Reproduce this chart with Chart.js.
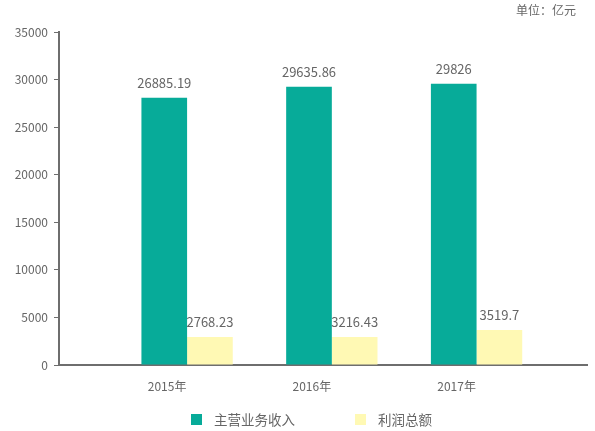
<!DOCTYPE html>
<html>
<head>
<meta charset="utf-8">
<script src="https://cdn.jsdelivr.net/npm/chart.js@4"></script>
<style>
  html, body { margin: 0; padding: 0; background: #fff; }
  #wrap { width: 595px; height: 431px; }
</style>
</head>
<body>
<div id="wrap"><canvas id="chart" width="595" height="431"></canvas></div>
<script>
// values
const years = ['2015年', '2016年', '2017年'];
const seriesNames = ['主营业务收入', '利润总额'];
const revenueBars = [28100, 29250, 29570];
const profitBars = [2950, 2950, 3680];
const revenueLabels = ['26885.19', '29635.86', '29826'];
const profitLabels = ['2768.23', '3216.43', '3519.7'];
const yTicks = [0, 5000, 10000, 15000, 20000, 25000, 30000, 35000];
const unitText = '单位：亿元';

const colors = ['#07AB99', '#FFF9B4'];
const textGray = '#666666';
const axisGray = '#6e6e6e';
const FONT = '"Noto Sans CJK SC", "Noto Sans", sans-serif';

const barLabels = [revenueLabels, profitLabels];

// value labels above bars, unit text and legend
const extras = {
  id: 'extras',
  afterDatasetsDraw(chart) {
    const ctx = chart.ctx;
    ctx.save();
    ctx.fillStyle = textGray;
    ctx.font = '13px ' + FONT;
    ctx.textAlign = 'center';
    ctx.textBaseline = 'alphabetic';
    chart.data.datasets.forEach((ds, i) => {
      chart.getDatasetMeta(i).data.forEach((bar, j) => {
        ctx.fillText(barLabels[i][j], bar.x, bar.y - 10);
      });
    });

    ctx.font = '12px ' + FONT;
    ctx.textAlign = 'right';
    ctx.textBaseline = 'middle';
    ctx.fillText(unitText, 576, 10);

    // legend
    ctx.font = '13.5px ' + FONT;
    ctx.textAlign = 'left';
    const legendX = [191, 355];
    seriesNames.forEach((name, i) => {
      ctx.fillStyle = colors[i];
      ctx.fillRect(legendX[i], 414, 11, 11);
      ctx.fillStyle = textGray;
      ctx.fillText(name, legendX[i] + 23, 420);
    });
    ctx.restore();
  }
};

new Chart(document.getElementById('chart'), {
  type: 'bar',
  data: {
    datasets: [
      { label: seriesNames[0], data: revenueBars.map((v, i) => ({ x: i, y: v })), backgroundColor: colors[0] },
      { label: seriesNames[1], data: profitBars.map((v, i) => ({ x: i, y: v })), backgroundColor: colors[1] }
    ]
  },
  options: {
    responsive: false,
    animation: false,
    devicePixelRatio: 1,
    categoryPercentage: 0.631,
    barPercentage: 1,
    layout: { padding: { top: 32, right: 8, bottom: 0, left: 0 } },
    plugins: {
      legend: { display: false },
      tooltip: { enabled: false }
    },
    scales: {
      x: {
        type: 'linear',
        offset: false,
        bounds: 'data',
        min: -0.885,
        max: 2.763,
        afterBuildTicks: s => { s.ticks = years.map((y, i) => ({ value: i })); },
        afterFit: s => { s.height = 66; },
        grid: { display: false },
        border: { display: true, color: axisGray, width: 2 },
        ticks: {
          callback: v => years[v],
          color: textGray,
          font: { family: FONT, size: 12 },
          padding: 6,
          labelOffset: -20,
          maxRotation: 0,
          autoSkip: false
        }
      },
      y: {
        min: 0,
        max: 35000,
        afterBuildTicks: s => { s.ticks = yTicks.map(v => ({ value: v })); },
        afterFit: s => { s.width = 59; },
        grid: {
          display: true,
          drawOnChartArea: false,
          drawTicks: true,
          tickLength: 5,
          color: axisGray,
          lineWidth: 1
        },
        border: { display: true, color: axisGray, width: 2 },
        ticks: {
          callback: v => String(v),
          color: textGray,
          font: { family: FONT, size: 12 },
          padding: 6
        }
      }
    }
  },
  plugins: [extras]
});
</script>
</body>
</html>
